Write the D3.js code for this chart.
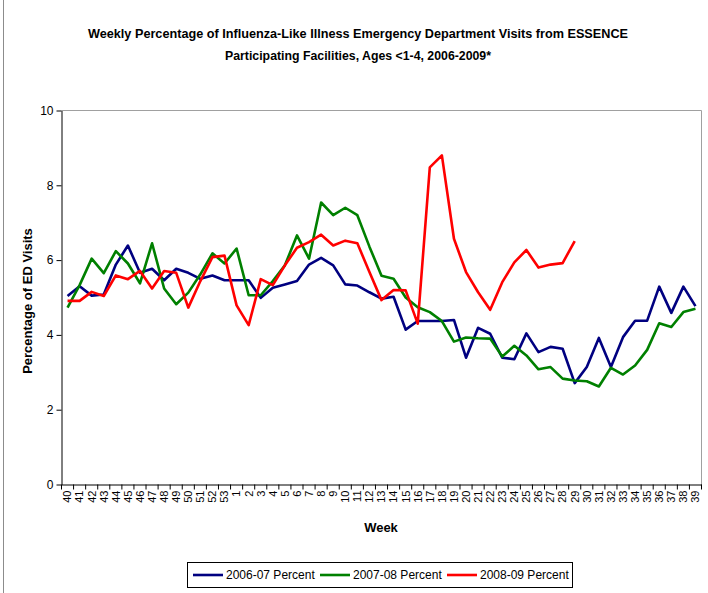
<!DOCTYPE html>
<html>
<head>
<meta charset="utf-8">
<script src="https://cdn.jsdelivr.net/npm/d3@7"></script>
<style>
    body { margin: 0; background: #fff; }
    svg { display: block; font-family: "Liberation Sans", Arial, sans-serif; }
</style>
</head>
<body>
<div id="chart-area"></div>
<script>
// week labels (flu season runs week 40 to week 39)
const weeks = ["40","41","42","43","44","45","46","47","48","49","50","51","52","53",
    "1","2","3","4","5","6","7","8","9","10","11","12","13","14","15","16","17","18","19",
    "20","21","22","23","24","25","26","27","28","29","30","31","32","33","34","35","36","37","38","39"];

const pct0607 = [5.04,5.30,5.05,5.08,5.88,6.39,5.66,5.77,5.46,5.77,5.66,5.50,5.59,5.46,
    5.46,5.46,4.99,5.26,5.35,5.44,5.88,6.06,5.86,5.35,5.32,5.14,4.97,5.02,4.14,4.37,4.37,4.37,4.40,
    3.39,4.19,4.03,3.39,3.35,4.04,3.54,3.68,3.63,2.71,3.14,3.92,3.14,3.94,4.38,4.38,5.29,4.59,5.29,4.77];

const pct0708 = [4.73,5.33,6.04,5.65,6.24,5.91,5.38,6.45,5.24,4.82,5.13,5.62,6.18,5.91,
    6.31,5.06,5.06,5.44,5.86,6.66,6.04,7.54,7.20,7.40,7.20,6.36,5.58,5.50,5.00,4.74,4.61,4.37,3.82,
    3.93,3.91,3.90,3.42,3.71,3.45,3.08,3.14,2.83,2.78,2.76,2.62,3.12,2.94,3.18,3.60,4.31,4.21,4.61,4.70];

// 2008-09 season only has data up to week 29
const pct0809 = [4.91,4.91,5.15,5.04,5.59,5.49,5.71,5.24,5.71,5.66,4.73,5.44,6.08,6.12,
    4.79,4.26,5.49,5.33,5.86,6.33,6.48,6.68,6.39,6.52,6.45,5.68,4.93,5.20,5.19,4.30,8.48,8.80,6.57,
    5.68,5.14,4.67,5.41,5.94,6.27,5.80,5.88,5.92,6.51];

const seriesNames = ["2006-07 Percent", "2007-08 Percent", "2008-09 Percent"];
const yTicks = [0, 2, 4, 6, 8, 10];

class IliChart {
    constructor(parentElement) {
        this.parentElement = parentElement;
        this.colors = ["#000080", "#008000", "#ff0000"];
        this.series = [pct0607, pct0708, pct0809].map((vals, k) => ({
            name: seriesNames[k],
            color: this.colors[k],
            values: vals.map((v, i) => ({week: weeks[i], value: v}))
        }));
        this.initVis();
    }

    initVis() {
        let vis = this;

        vis.width = 708;
        vis.height = 593;
        vis.plot = {left: 61.5, right: 701.5, top: 110.5, bottom: 484.5};

        vis.svg = d3.select("#" + vis.parentElement).append("svg")
            .attr("width", vis.width)
            .attr("height", vis.height);

        // chart frame, only the left edge shows inside the picture
        vis.svg.append("line")
            .attr("x1", 3.5).attr("x2", 3.5)
            .attr("y1", 0).attr("y2", vis.height)
            .attr("stroke", "#8c8c8c");

        vis.x = d3.scaleBand()
            .domain(weeks)
            .range([vis.plot.left, vis.plot.right])
            .padding(0);

        vis.y = d3.scaleLinear()
            .domain([0, 10])
            .range([vis.plot.bottom, vis.plot.top]);

        // title
        vis.svg.append("text")
            .attr("x", 358).attr("y", 38)
            .attr("text-anchor", "middle")
            .attr("font-size", 12).attr("font-weight", "bold")
            .attr("textLength", 540).attr("lengthAdjust", "spacingAndGlyphs")
            .text("Weekly Percentage of Influenza-Like Illness Emergency Department Visits from ESSENCE");
        vis.svg.append("text")
            .attr("x", 358).attr("y", 60)
            .attr("text-anchor", "middle")
            .attr("font-size", 12).attr("font-weight", "bold")
            .attr("textLength", 266).attr("lengthAdjust", "spacingAndGlyphs")
            .text("Participating Facilities, Ages <1-4, 2006-2009*");

        // plot area border (top / right)
        vis.svg.append("path")
            .attr("d", `M${vis.plot.left},${vis.plot.top}H${vis.plot.right}V${vis.plot.bottom}`)
            .attr("fill", "none").attr("stroke", "#a0a0a0");

        vis.updateVis();
    }

    updateVis() {
        let vis = this;
        let half = vis.x.bandwidth() / 2;

        // y axis
        let yAxis = vis.svg.append("g")
            .attr("transform", `translate(${vis.plot.left},0)`)
            .call(d3.axisLeft(vis.y).tickValues(yTicks).tickSize(5).tickSizeOuter(0));
        yAxis.select(".domain").attr("stroke", "#000");
        yAxis.selectAll("text")
            .attr("font-size", 12).attr("fill", "#000")
            .attr("font-family", "Liberation Sans, Arial, sans-serif")
            .attr("x", -8);

        // x axis: labels at band centres, tick marks at band edges
        let xAxis = vis.svg.append("g")
            .attr("transform", `translate(0,${vis.plot.bottom})`)
            .call(d3.axisBottom(vis.x).tickSize(0).tickSizeOuter(0));
        xAxis.select(".domain").attr("stroke", "#000");
        xAxis.selectAll("text")
            .attr("font-size", 11).attr("fill", "#000")
            .attr("font-family", "Liberation Sans, Arial, sans-serif")
            .attr("text-anchor", "end")
            .attr("dy", "0.35em")
            .attr("transform", "translate(0,6) rotate(-90)")
            .attr("x", 0).attr("y", 0);

        vis.svg.append("g")
            .selectAll("line")
            .data(weeks.concat([null]))
            .join("line")
            .attr("x1", d => d === null ? vis.plot.right : vis.x(d))
            .attr("x2", d => d === null ? vis.plot.right : vis.x(d))
            .attr("y1", vis.plot.bottom)
            .attr("y2", vis.plot.bottom + 5)
            .attr("stroke", "#000");

        // axis titles
        vis.svg.append("text")
            .attr("transform", "translate(32,301) rotate(-90)")
            .attr("text-anchor", "middle")
            .attr("font-size", 13).attr("font-weight", "bold")
            .text("Percentage of ED Visits");
        vis.svg.append("text")
            .attr("x", 381).attr("y", 532)
            .attr("text-anchor", "middle")
            .attr("font-size", 13).attr("font-weight", "bold")
            .text("Week");

        // lines
        let line = d3.line()
            .x(d => vis.x(d.week) + half)
            .y(d => vis.y(d.value));

        vis.svg.append("g")
            .selectAll("path")
            .data(vis.series)
            .join("path")
            .attr("d", d => line(d.values))
            .attr("fill", "none")
            .attr("stroke", d => d.color)
            .attr("stroke-width", 2.6)
            .attr("stroke-linejoin", "round");

        // legend
        let legend = vis.svg.append("g");
        legend.append("rect")
            .attr("x", 187.5).attr("y", 562.5)
            .attr("width", 385).attr("height", 25)
            .attr("fill", "#fff").attr("stroke", "#000");

        let legendX = d3.scaleOrdinal()
            .domain(seriesNames)
            .range([193, 320, 447]);

        let items = legend.selectAll(".item")
            .data(vis.series)
            .join("g")
            .attr("class", "item")
            .attr("transform", d => `translate(${legendX(d.name)},575)`);
        items.append("line")
            .attr("x1", 0).attr("x2", 30)
            .attr("stroke", d => d.color)
            .attr("stroke-width", 2.6);
        items.append("text")
            .attr("x", 33).attr("dy", "0.35em")
            .attr("font-size", 12)
            .text(d => d.name);
    }
}

new IliChart("chart-area");
</script>
</body>
</html>
